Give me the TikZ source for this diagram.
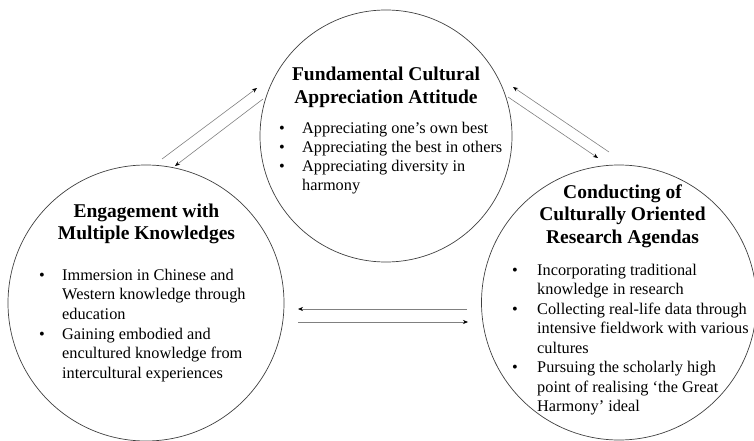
\documentclass[tikz,border=0pt]{standalone}
\usepackage{fontspec}
\setmainfont{Liberation Serif}
\usetikzlibrary{arrows.meta}

\begin{document}
\begin{tikzpicture}[x=1pt,y=-1pt,
  ring/.style={circle, draw=black!75, line width=0.7pt, inner sep=0pt, minimum size=#1},
  % multi-line nodes are placed by the baseline of their last line
  heading/.style={font=\fontsize{19.5}{22.8}\selectfont\bfseries, align=center, inner sep=0pt, anchor=base},
  itemtext/.style={font=\fontsize{16.3}{19.5}\selectfont, align=left, inner sep=0pt, anchor=base west},
  dot/.style={font=\fontsize{16.3}{19.5}\selectfont, inner sep=0pt, anchor=base},
  link/.style={draw=black!50, line width=0.6pt, -{Stealth[length=5pt,width=4pt,black]}}
]
\useasboundingbox (0,0) rectangle (754,441);

% the three circles
\node[ring=252pt] (attitude) at (386,136) {};
\node[ring=276pt] (knowledge) at (146,303) {};
\node[ring=275pt] (agenda) at (619,302.5) {};

% headings
\node[heading] (attitude-title) at (386,103.8) {Fundamental Cultural\\Appreciation Attitude};
\node[heading] (knowledge-title) at (146.5,239.8) {Engagement with\\Multiple Knowledges};
\node[heading] (agenda-title) at (622.5,243.6) {Conducting of\\Culturally Oriented\\Research Agendas};

% attitude items
\node[dot] (ab1) at (282,133) {•};
\node[itemtext] (ai1) at (302,133) {Appreciating one’s own best};
\node[dot] (ab2) at (282,152) {•};
\node[itemtext] (ai2) at (302,152) {Appreciating the best in others};
\node[dot] (ab3) at (282,171) {•};
\node[itemtext] (ai3) at (302,190.5) {Appreciating diversity in\\harmony};

% knowledge items
\node[dot] (kb1) at (42,280) {•};
\node[itemtext] (ki1) at (62,319) {Immersion in Chinese and\\Western knowledge through\\education};
\node[dot] (kb2) at (42,339) {•};
\node[itemtext] (ki2) at (62,378) {Gaining embodied and\\encultured knowledge from\\intercultural experiences};

% agenda items
\node[dot] (gb1) at (515,275) {•};
\node[itemtext] (gi1) at (537,294.5) {Incorporating traditional\\knowledge in research};
\node[dot] (gb2) at (515,314) {•};
\node[itemtext] (gi2) at (537,353) {Collecting real-life data through\\intensive fieldwork with various\\cultures};
\node[dot] (gb3) at (515,372.5) {•};
\node[itemtext] (gi3) at (537,411.5) {Pursuing the scholarly high\\point of realising ‘the Great\\Harmony’ ideal};

% arrow end points
\coordinate (k-up) at (162,159);
\coordinate (a-from-k) at (257,88);
\coordinate (a-down) at (263,99);
\coordinate (k-from-a) at (175,166);
\coordinate (g-up) at (609,152);
\coordinate (a-from-g) at (513,87);
\coordinate (a-right) at (508,97);
\coordinate (g-from-a) at (598,158);
\coordinate (g-left) at (467,309);
\coordinate (k-from-g) at (298,309);
\coordinate (k-right) at (298,322);
\coordinate (g-from-k) at (468,322);

% two-way links
\draw[link] (k-up) -- (a-from-k);
\draw[link] (a-down) -- (k-from-a);
\draw[link] (g-up) -- (a-from-g);
\draw[link] (a-right) -- (g-from-a);
\draw[link] (g-left) -- (k-from-g);
\draw[link] (k-right) -- (g-from-k);
\end{tikzpicture}
\end{document}
